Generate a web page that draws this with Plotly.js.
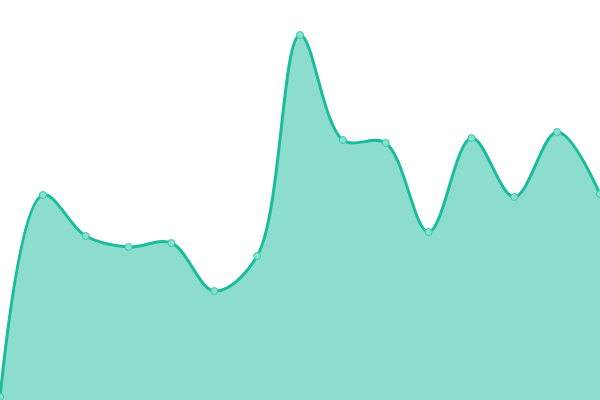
<!DOCTYPE html>
<html>
<head>
<meta charset="utf-8">
<script src="https://cdn.plot.ly/plotly-3.0.1.min.js"></script>
<style>html,body{margin:0;padding:0;background:#fff;}#chart{width:600px;height:400px;}</style>
</head>
<body>
<div id="chart"></div>
<script>
const categories = [0,1,2,3,4,5,6,7,8,9,10,11,12,13,14];
const values = [3, 205, 164, 153, 157, 109, 144, 365, 260, 257, 168, 262, 203, 268, 206];

const trace = {
  x: categories,
  y: values,
  type: 'scatter',
  mode: 'lines+markers',
  fill: 'tozeroy',
  fillcolor: 'rgba(26,188,156,0.5)',
  line: {color: '#1abc9c', width: 3, shape: 'spline', smoothing: 1},
  marker: {size: 7, color: '#8ae0cf', line: {color: '#3cc7a8', width: 1}},
  hoverinfo: 'none'
};

const layout = {
  width: 600, height: 400,
  margin: {l: 0, r: 0, t: 0, b: 0, pad: 0},
  paper_bgcolor: '#ffffff',
  plot_bgcolor: '#ffffff',
  showlegend: false,
  xaxis: {range: [0, 14], visible: false, fixedrange: true},
  yaxis: {range: [0, 400], visible: false, fixedrange: true}
};

Plotly.newPlot('chart', [trace], layout, {displayModeBar: false, staticPlot: true});
</script>
</body>
</html>
